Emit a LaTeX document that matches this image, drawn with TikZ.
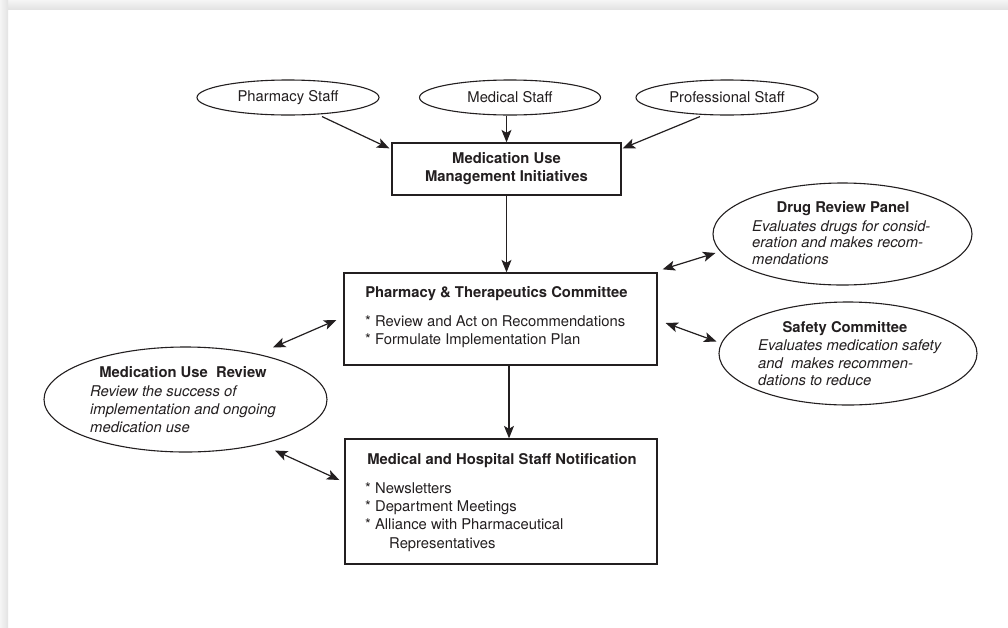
\documentclass[tikz,border=0pt]{standalone}
\usepackage{fontspec}
\setmainfont{TeX Gyre Heros}
\usetikzlibrary{arrows.meta,shapes.geometric,calc}
\definecolor{ink}{HTML}{231F20}
\newcommand\myfs{\fontsize{14.8}{18}\selectfont}
\begin{document}
\begin{tikzpicture}[x=1pt,y=-1pt,
  txt/.style={font=\myfs, text=ink, inner sep=0pt, anchor=base},
  txtl/.style={txt, anchor=base west},
  ttl/.style={txt, font=\bfseries\myfs},
  itl/.style={txtl, font=\itshape\myfs},
  boxn/.style={draw=ink, line width=1.3pt, rectangle, inner sep=0pt, text=ink},
  ell/.style={draw=ink, line width=1.1pt, ellipse, inner sep=0pt, text=ink, font=\myfs},
  tip/.tip={Stealth[length=12.5pt,width=10pt,inset=3pt]},
  arr/.style={-tip, line width=1.2pt, draw=ink},
  dbl/.style={tip-tip, line width=1.2pt, draw=ink}
]
\fill[white] (0,0) rectangle (1008,627);
\useasboundingbox (0,0) rectangle (1008,627);
\shade[top color=gray!8, bottom color=gray!22] (0,0) rectangle (1008,9);
\shade[left color=gray!8, right color=gray!22] (0,0) rectangle (8,627);

% top ellipses
\node[ell, minimum width=182pt, minimum height=35pt] (ps) at (288,97.5) {Pharmacy Staff};
\node[ell, minimum width=181pt, minimum height=35pt] (ms) at (510,97.5) {Medical Staff};
\node[ell, minimum width=182pt, minimum height=35pt] (prs) at (727,97.5) {Professional Staff};

% top box
\node[boxn, minimum width=229pt, minimum height=52pt, align=center, font=\bfseries\myfs] (mum) at (506.5,169) {Medication Use\\Management Initiatives};

% P&T box
\node[boxn, minimum width=313pt, minimum height=92pt] (pt) at (500.5,319) {};
\node[ttl] (ptt) at (496.5,297) {Pharmacy \& Therapeutics Committee};
\node[txtl] (pt1) at (365,326) {* Review and Act on Recommendations};
\node[txtl] (pt2) at (365,344) {* Formulate Implementation Plan};

% notification box
\node[boxn, minimum width=312pt, minimum height=125pt] (med) at (501,501.5) {};
\node[ttl] (medt) at (502,464) {Medical and Hospital Staff Notification};
\node[txtl] (med1) at (365,493) {* Newsletters};
\node[txtl] (med2) at (365,511.3) {* Department Meetings};
\node[txtl] (med3) at (365,529.6) {* Alliance with Pharmaceutical};
\node[txtl] (med4) at (389,548) {Representatives};

% drug review panel
\node[ell, minimum width=259pt, minimum height=102pt] (dr) at (842.5,234) {};
\node[ttl] (drt) at (843,212) {Drug Review Panel};
\node[itl] (dr1) at (752,231) {Evaluates drugs for consid-};
\node[itl] (dr2) at (752,247.5) {eration and makes recom-};
\node[itl] (dr3) at (752,264) {mendations};

% safety committee
\node[ell, minimum width=258pt, minimum height=103pt] (sc) at (848,353.5) {};
\node[ttl] (sct) at (845,332) {Safety Committee};
\node[itl] (sc1) at (758,350) {Evaluates medication safety};
\node[itl] (sc2) at (758,368) {and\ \ makes recommen-};
\node[itl] (sc3) at (758,385.5) {dations to reduce};

% medication use review
\node[ell, minimum width=283pt, minimum height=105pt] (mur) at (185.5,399.5) {};
\node[ttl] (murt) at (183,377) {Medication Use\ \ Review};
\node[itl] (mur1) at (90,396) {Review the success of};
\node[itl] (mur2) at (90,414) {implementation and ongoing};
\node[itl] (mur3) at (90,432) {medication use};

% connectors
\draw[arr] ([shift={(34,1)}]ps.south) -- ([shift={(-2,6)}]mum.north west);
\draw[arr] (mum.north |- ms.south) -- (mum.north);
\draw[arr] ([shift={(-27,1)}]prs.south) -- ([shift={(1,6)}]mum.north east);
\draw[arr] (mum.south) -- (mum.south |- pt.north);
\coordinate (ptout) at ([xshift=8.5pt]pt.south);
\draw[arr] (ptout) -- (ptout |- med.north);

\draw[dbl] ([shift={(5,-3)}]pt.north east) -- ([shift={(3,19)}]dr.west);
\draw[dbl] ([shift={(8,4)}]pt.east) -- ([shift={(-2,-12)}]sc.west);
\draw[dbl] ([shift={(87.5,1)}]mur.north) -- ([shift={(-7,1)}]pt.west);
\draw[dbl] ([shift={(89.5,-2)}]mur.south) -- ([shift={(-5,-21.5)}]med.west);
\end{tikzpicture}
\end{document}
